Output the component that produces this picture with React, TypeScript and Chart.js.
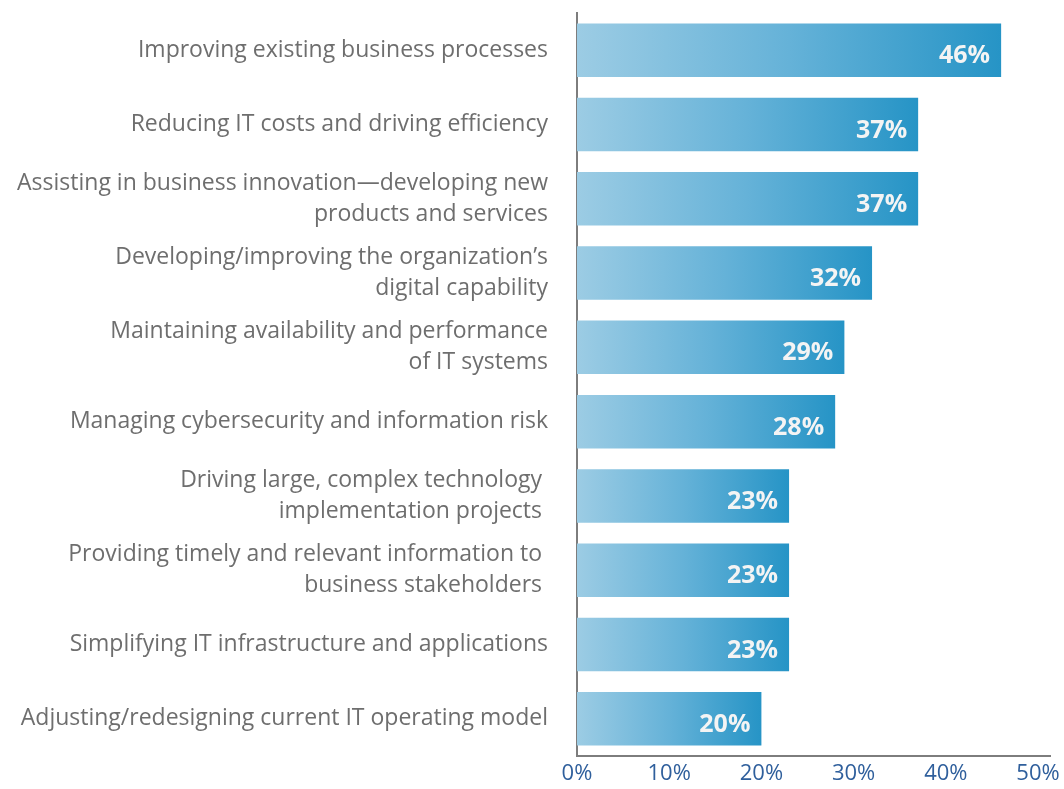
import React, { useEffect, useRef } from "react";
import { Chart, registerables } from "chart.js";

Chart.register(...registerables);

const categories: (string | string[])[] = [
  "Improving existing business processes",
  "Reducing IT costs and driving efficiency",
  ["Assisting in business innovation\u2014developing new", "products and services"],
  ["Developing/improving the organization\u2019s", "digital capability"],
  ["Maintaining availability and performance", "of IT systems"],
  "Managing cybersecurity and information risk",
  ["Driving large, complex technology ", "implementation projects "],
  ["Providing timely and relevant information to ", "business stakeholders "],
  "Simplifying IT infrastructure and applications",
  "Adjusting/redesigning current IT operating model",
];

const values: number[] = [46, 37, 37, 32, 29, 28, 23, 23, 23, 20];

const tickValues: number[] = [0, 10, 20, 30, 40, 50];
const tickLabels: string[] = ["0%", "10%", "20%", "30%", "40%", "50%"];

const valueLabelPlugin = {
  id: "valueLabels",
  afterDatasetsDraw(chart: any) {
    const ctx = chart.ctx;
    const meta = chart.getDatasetMeta(0);
    ctx.save();
    ctx.font = "bold 25px 'Open Sans'";
    ctx.fillStyle = "#f4f4f4";
    ctx.textAlign = "right";
    ctx.textBaseline = "middle";
    meta.data.forEach((el: any, i: number) => {
      ctx.fillText(values[i] + "%", el.x - 11, el.y + 6);
    });
    ctx.restore();
  },
};

export default function App() {
  const ref = useRef<HTMLCanvasElement | null>(null);

  useEffect(() => {
    if (!ref.current) return;
    const chart = new Chart(ref.current, {
      type: "bar",
      data: {
        labels: categories,
        datasets: [
          {
            data: values,
            backgroundColor: (c: any) => {
              const ch = c.chart;
              const area = ch.chartArea;
              const xs = ch.scales && ch.scales.x;
              if (!area || !xs || c.raw === undefined) return "#62b0d6";
              const x0 = area.left;
              const x1 = xs.getPixelForValue(c.raw);
              if (!isFinite(x1) || x1 <= x0) return "#62b0d6";
              const g = ch.ctx.createLinearGradient(x0, 0, x1, 0);
              g.addColorStop(0, "#9ccce4");
              g.addColorStop(0.5, "#65b2d8");
              g.addColorStop(1, "#2694c6");
              return g;
            },
            borderWidth: 0,
            barPercentage: 0.72,
            categoryPercentage: 1,
          },
        ],
      },
      options: {
        indexAxis: "y",
        animation: false,
        responsive: true,
        maintainAspectRatio: false,
        layout: { padding: { top: 13, right: 14, left: 0, bottom: 0 } },
        plugins: {
          legend: { display: false },
          tooltip: { enabled: false },
        },
        scales: {
          x: {
            min: 0,
            max: 51.3,
            afterBuildTicks: (s: any) => {
              s.ticks = tickValues.map((v) => ({ value: v }));
            },
            afterFit: (s: any) => {
              s.height = 33;
              s.paddingLeft = 0;
              s.paddingRight = 0;
            },
            grid: { display: false, drawTicks: false },
            border: { display: true, color: "#7d7d7d", width: 2 },
            ticks: {
              padding: 5,
              color: "#2f5f9c",
              font: { family: "'Open Sans'", size: 22 },
              callback: (_v: any, i: number) => tickLabels[i],
            },
          },
          y: {
            afterFit: (s: any) => {
              s.width = 577;
              s.paddingTop = 0;
              s.paddingBottom = 0;
            },
            grid: { display: false, drawTicks: false },
            border: { display: true, color: "#7d7d7d", width: 2 },
            ticks: {
              padding: 29,
              color: "#6e6e6e",
              font: { family: "'Open Sans'", size: 23, lineHeight: 1.35 },
            },
          },
        },
      },
      plugins: [valueLabelPlugin],
    } as any);
    return () => chart.destroy();
  }, []);

  return (
    <div style={{ position: "fixed", left: 0, top: 0, width: 1064, height: 789, background: "#fff" }}>
      <canvas ref={ref} />
    </div>
  );
}
